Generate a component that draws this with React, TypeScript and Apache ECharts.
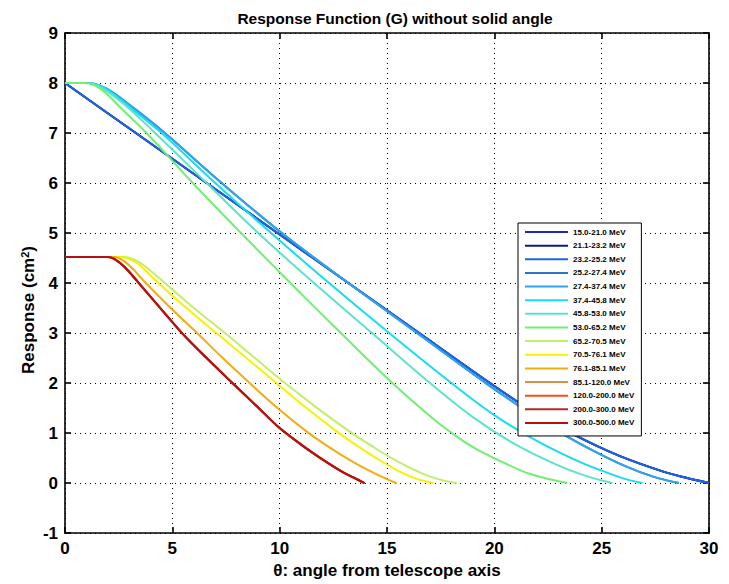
import React, { useEffect, useRef } from "react";
import * as echarts from "echarts";

// ---- data (theta in degrees, response in cm^2) ----
const legendNames = [
  "15.0-21.0 MeV",
  "21.1-23.2 MeV",
  "23.2-25.2 MeV",
  "25.2-27.4 MeV",
  "27.4-37.4 MeV",
  "37.4-45.8 MeV",
  "45.8-53.0 MeV",
  "53.0-65.2 MeV",
  "65.2-70.5 MeV",
  "70.5-76.1 MeV",
  "76.1-85.1 MeV",
  "85.1-120.0 MeV",
  "120.0-200.0 MeV",
  "200.0-300.0 MeV",
  "300.0-500.0 MeV",
];

const seriesColors = [
  "#1a2ab8", "#101a8a", "#1c66e4", "#2c78c0", "#2ea4ee",
  "#18dcf0", "#5ce4c8", "#72ee72", "#c2ee6a", "#f6f200",
  "#f4ac14", "#d49444", "#ff4c14", "#b02c2c", "#b81010",
];

const straightBlue = [[0, 8], [3.3, 7], [6.6, 6], [9.9, 5], [13.2, 4], [16.5, 3], [19.8, 2], [21.8, 1.43], [23.8, 0.95], [25.8, 0.55], [27.8, 0.24], [28.9, 0.11], [30, 0]];
const lightBlue = [[0, 8], [1.1, 8], [1.6, 7.95], [2.2, 7.82], [3.2, 7.5], [4.65, 7], [7.3, 6], [10.1, 5], [13.2, 4], [16.4, 3], [19.6, 2], [21.4, 1.47], [23.0, 1.03], [24.6, 0.65], [26.1, 0.34], [27.4, 0.13], [28.6, 0]];
const cyan = [[0, 8], [1.1, 8], [1.6, 7.95], [2.2, 7.8], [3.2, 7.45], [4.5, 7], [7.0, 6], [9.6, 5], [12.3, 4], [15.1, 3], [18.0, 2], [20.0, 1.36], [22.0, 0.84], [24.0, 0.42], [25.5, 0.17], [26.2, 0.07], [26.9, 0]];
const aqua = [[0, 8], [1.05, 8], [1.5, 7.95], [2.0, 7.82], [2.9, 7.52], [4.2, 7], [6.6, 6], [9.0, 5], [11.6, 4], [14.3, 3], [17.0, 2], [19.0, 1.32], [21.0, 0.77], [23.0, 0.35], [24.3, 0.14], [25.5, 0]];
const green = [[0, 8], [0.95, 8], [1.4, 7.95], [1.9, 7.8], [2.6, 7.5], [3.8, 7], [5.95, 6], [8.2, 5], [10.5, 4], [12.85, 3], [15.25, 2], [17.25, 1.25], [18.25, 0.93], [19.25, 0.66], [21.25, 0.25], [22.25, 0.11], [23.4, 0]];
const yellowGreen = [[0, 4.52], [2.75, 4.52], [3.15, 4.48], [3.65, 4.36], [4.6, 4.02], [6.0, 3.5], [7.45, 3], [8.85, 2.5], [10.25, 2], [11.75, 1.5], [13.3, 1.02], [14.3, 0.74], [15.3, 0.48], [16.4, 0.24], [17.3, 0.09], [18.25, 0]];
const yellow = [[0, 4.52], [2.6, 4.52], [3.0, 4.48], [3.45, 4.37], [4.2, 4.06], [5.6, 3.52], [7.05, 3], [8.45, 2.5], [9.85, 2], [11.25, 1.5], [12.7, 1.02], [13.6, 0.75], [14.5, 0.5], [15.5, 0.25], [16.3, 0.1], [17.15, 0]];
const orange = [[0, 4.52], [2.3, 4.52], [2.65, 4.47], [3.1, 4.31], [3.72, 4.02], [4.92, 3.5], [6.15, 3], [7.35, 2.5], [8.6, 2], [9.9, 1.5], [11.2, 1.05], [12.3, 0.72], [13.35, 0.44], [14.4, 0.2], [14.95, 0.09], [15.45, 0]];
const red = [[0, 4.52], [2.0, 4.52], [2.35, 4.47], [2.8, 4.31], [3.4, 4.02], [4.4, 3.52], [5.45, 3], [6.6, 2.5], [7.8, 2], [8.9, 1.55], [10.0, 1.1], [11.0, 0.77], [11.9, 0.5], [12.9, 0.23], [13.45, 0.11], [13.95, 0]];

const seriesData = [
  straightBlue, straightBlue, straightBlue, lightBlue, lightBlue,
  cyan, aqua, green, yellowGreen, yellow,
  orange, red, red, red, red,
];

const xTicks = [0, 30, 5];
const yTicks = [-1, 9, 1];

export default function App() {
  const ref = useRef<HTMLDivElement>(null);
  useEffect(() => {
    if (!ref.current) return;
    const chart = echarts.init(ref.current, null, { renderer: "svg" });
    const font = "Liberation Sans, Arial, sans-serif";
    const axisCommon = {
      axisLine: { show: true, onZero: false, lineStyle: { color: "#000", width: 1.6 } },
      axisTick: { show: true, inside: true, length: 6, lineStyle: { color: "#000", width: 1.6 } },
    };
    const tickLabel = { fontFamily: font, fontSize: 17, fontWeight: "bold", color: "#000" };
    chart.setOption({
      animation: false,
      backgroundColor: "#fff",
      title: {
        text: "Response Function (G) without solid angle",
        left: 390,
        textAlign: "center",
        top: 5,
        textStyle: { fontFamily: font, fontSize: 15.5, fontWeight: "bold", color: "#000" },
      },
      graphic: [
        {
          type: "text",
          x: 28,
          y: 310,
          rotation: Math.PI / 2,
          style: {
            text: "Response (cm{s|2})",
            fontFamily: font,
            fontSize: 17,
            fontWeight: "bold",
            fill: "#000",
            align: "center",
            verticalAlign: "middle",
            rich: {
              s: { fontFamily: font, fontSize: 11, fontWeight: "bold", fill: "#000", verticalAlign: "top", padding: [0, 0, 7, 0] },
            },
          },
        },
      ],
      grid: { left: 65, right: 20, top: 33, bottom: 42, containLabel: false },
      legend: {
        orient: "vertical",
        left: 518,
        top: 223,
        icon: "rect",
        itemWidth: 43,
        itemHeight: 2,
        itemGap: 3.64,
        padding: [4, 7, 8, 7],
        backgroundColor: "#fff",
        borderColor: "#000",
        borderWidth: 1,
        borderRadius: 0,
        data: legendNames,
        textStyle: { fontFamily: font, fontSize: 8, lineHeight: 10, fontWeight: "bold", color: "#000" },
      },
      xAxis: [
        {
          type: "value",
          min: xTicks[0],
          max: xTicks[1],
          interval: xTicks[2],
          position: "bottom",
          name: "θ: angle from telescope axis",
          nameLocation: "middle",
          nameGap: 26,
          nameTextStyle: { fontFamily: font, fontSize: 17, fontWeight: "bold", color: "#000", verticalAlign: "top" },
          axisLabel: { ...tickLabel, margin: 7 },
          splitLine: { show: true, lineStyle: { color: "#000", type: [1, 4], width: 1 } },
          ...axisCommon,
        },
        {
          type: "value",
          min: xTicks[0],
          max: xTicks[1],
          interval: xTicks[2],
          position: "top",
          axisLabel: { show: false },
          splitLine: { show: false },
          ...axisCommon,
        },
      ],
      yAxis: [
        {
          type: "value",
          min: yTicks[0],
          max: yTicks[1],
          interval: yTicks[2],
          position: "left",
          axisLabel: { ...tickLabel, margin: 7 },
          splitLine: { show: true, lineStyle: { color: "#000", type: [1, 4], width: 1 } },
          ...axisCommon,
        },
        {
          type: "value",
          min: yTicks[0],
          max: yTicks[1],
          interval: yTicks[2],
          position: "right",
          axisLabel: { show: false },
          splitLine: { show: false },
          ...axisCommon,
        },
      ],
      series: legendNames.map((name, i) => ({
        name,
        type: "line",
        xAxisIndex: 0,
        yAxisIndex: 0,
        data: seriesData[i],
        showSymbol: false,
        symbol: "none",
        smooth: 0.35,
        lineStyle: { color: seriesColors[i], width: 2 },
        itemStyle: { color: seriesColors[i] },
        emphasis: { disabled: true },
      })),
    });
    return () => chart.dispose();
  }, []);
  return (
    <div
      ref={ref}
      style={{ position: "absolute", left: 0, top: 0, width: 729, height: 584 }}
    />
  );
}
